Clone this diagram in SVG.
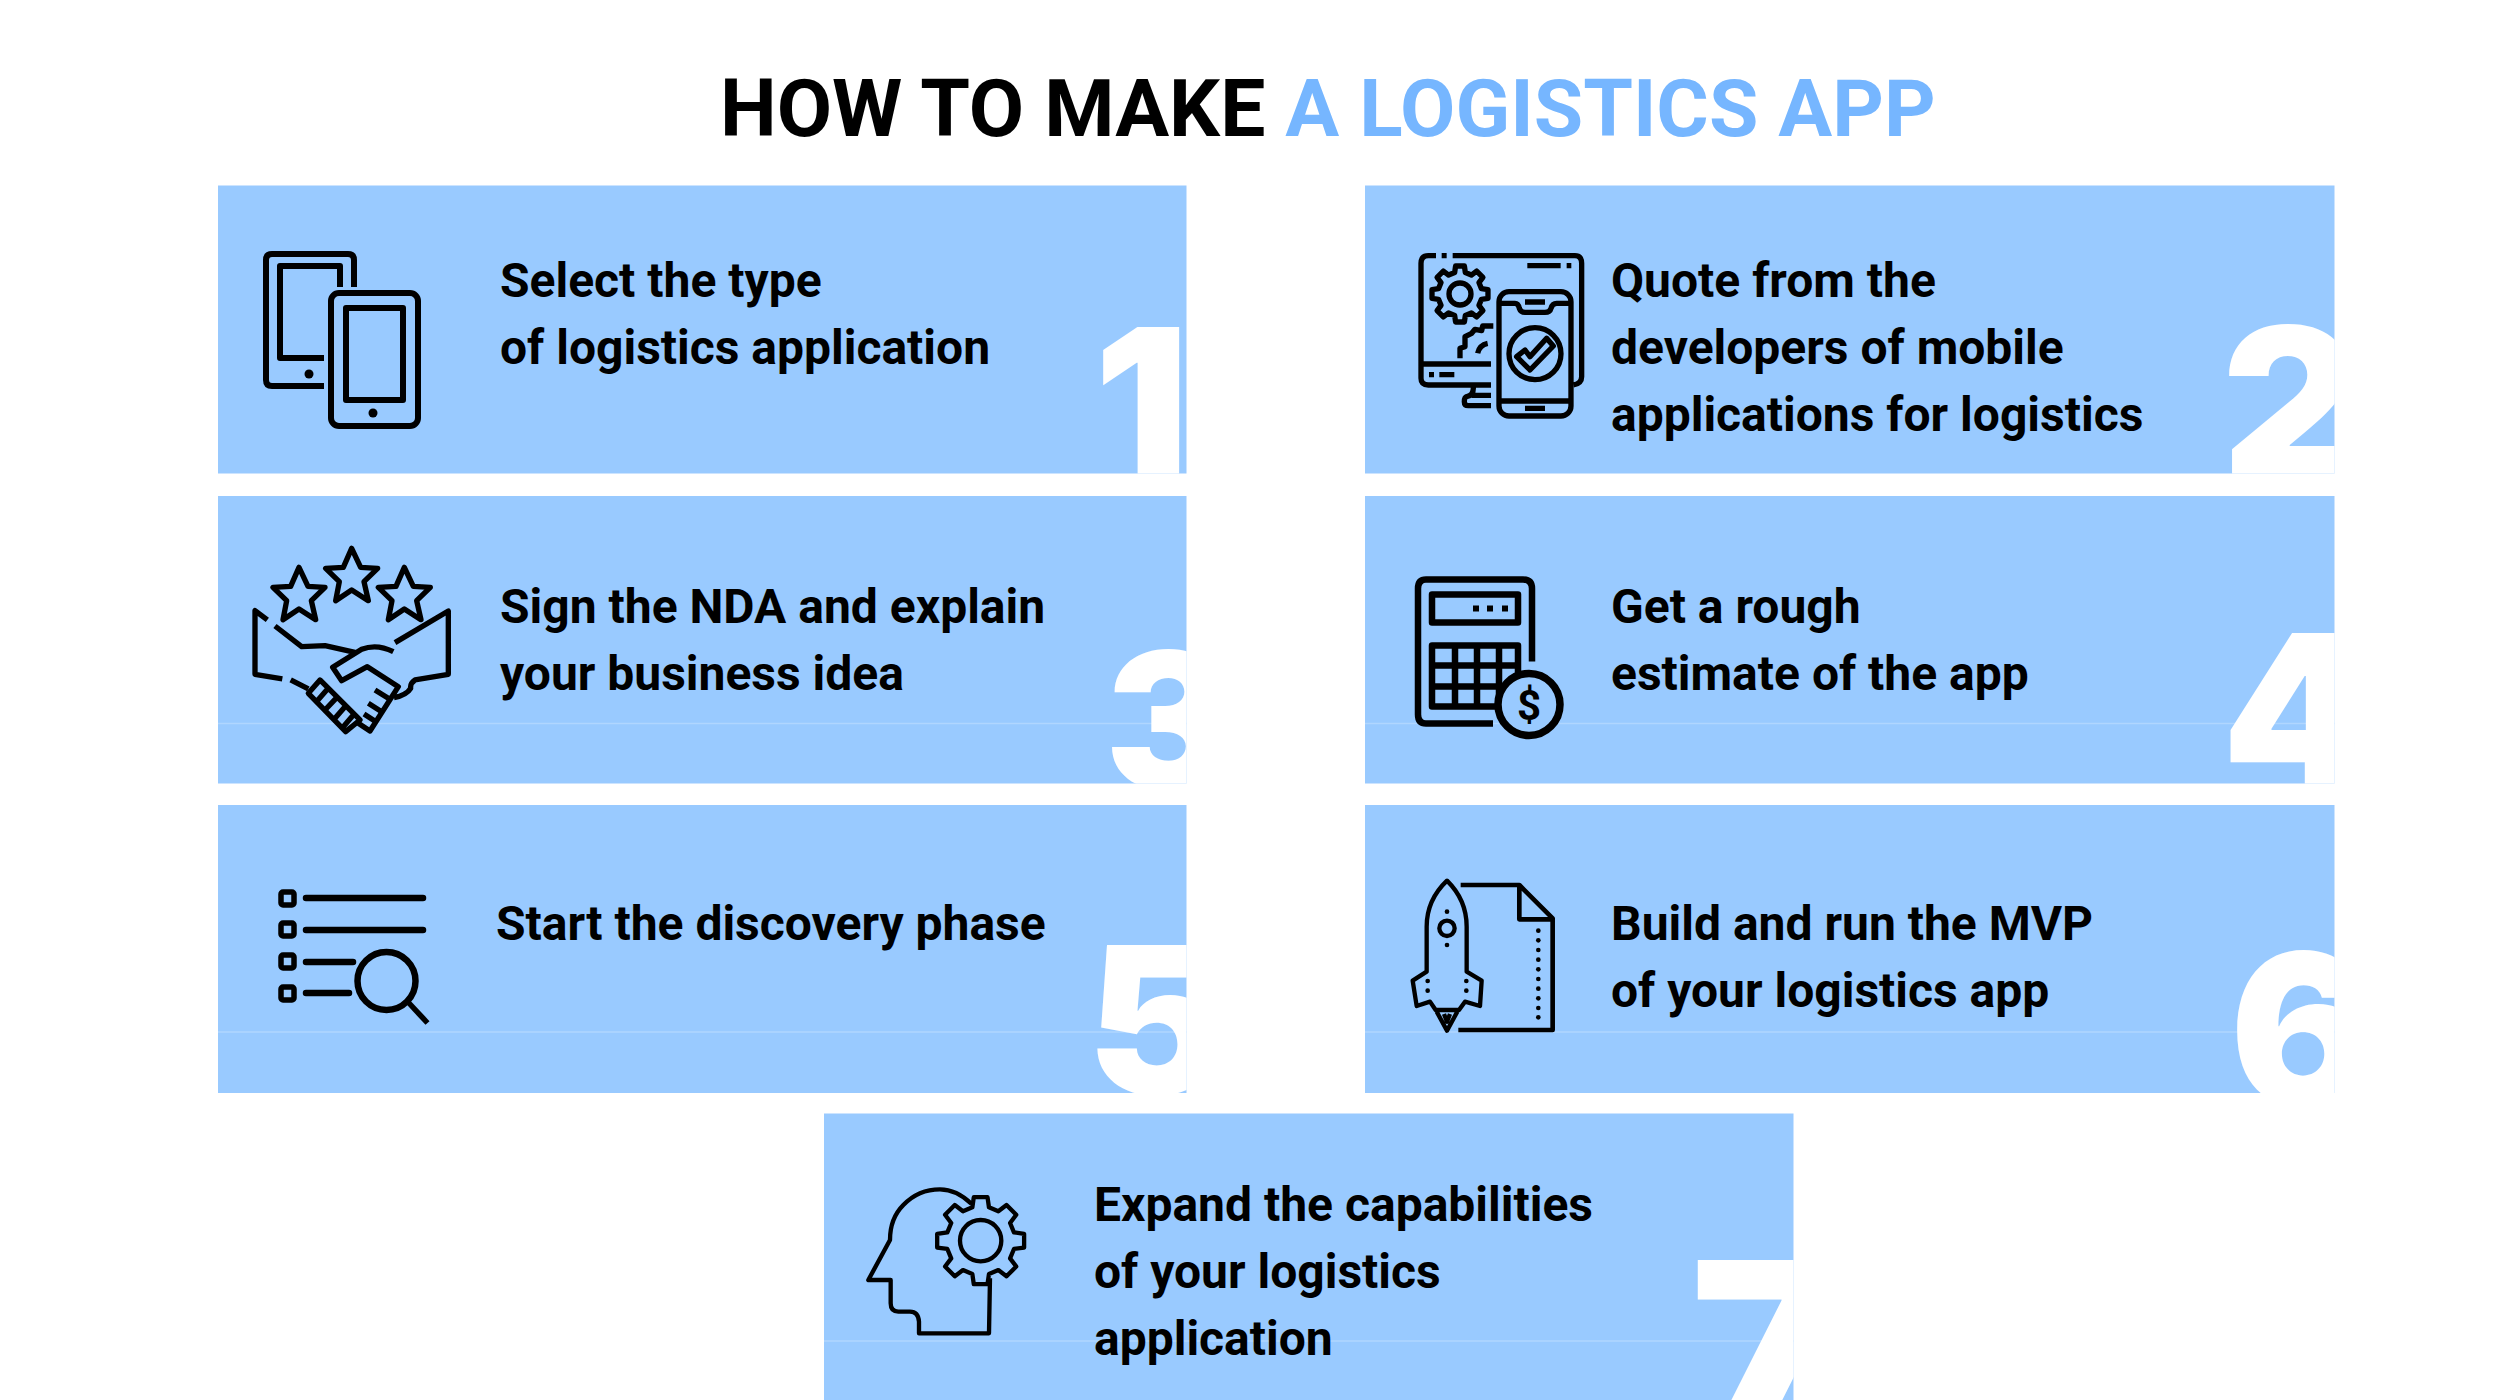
<svg xmlns="http://www.w3.org/2000/svg" xmlns:xlink="http://www.w3.org/1999/xlink" width="2500" height="1400" viewBox="0 0 2500 1400">
<style>
.card{fill:#99caff}
.seam{stroke:#b0d6ff;stroke-width:1.5;fill:none}
.t{font-family:Roboto,"Liberation Sans",sans-serif;font-weight:700;font-size:48px;fill:#000}
.title{font-family:Roboto,"Liberation Sans",sans-serif;font-weight:700;font-size:80.3px}
.num{font-family:Inter,"Liberation Sans",sans-serif;font-weight:900;font-size:210px;fill:#fff}
.i{fill:none;stroke:#000;stroke-linejoin:round;stroke-linecap:butt}
.f{fill:#000;stroke:none}
</style>
<defs>
<path id="gear" d="M-18.9-75.7L-15.6-98.8H15.6L18.9-75.7L40.2-66.9L58.8-80.9L80.9-58.8L66.9-40.2L75.7-18.9L98.8-15.6V15.6L75.7 18.9L66.9 40.2L80.9 58.8L58.8 80.9L40.2 66.9L18.9 75.7L15.6 98.8H-15.6L-18.9 75.7L-40.2 66.9L-58.8 80.9L-80.9 58.8L-66.9 40.2L-75.7 18.9L-98.8 15.6V-15.6L-75.7-18.9L-66.9-40.2L-80.9-58.8L-58.8-80.9L-40.2-66.9Z"/>
<path id="star" d="M0 0L27 57L78 60L37 100L50 157L0 125L-48 157L-37 100L-78 60L-25 57Z"/>
<clipPath id="c1"><rect x="218" y="185.500" width="968.500" height="288"/></clipPath>
<clipPath id="c2"><rect x="1365" y="185.500" width="969.500" height="288"/></clipPath>
<clipPath id="c3"><rect x="218" y="496" width="968.500" height="287.500"/></clipPath>
<clipPath id="c4"><rect x="1365" y="496" width="969.500" height="287.500"/></clipPath>
<clipPath id="c5"><rect x="218" y="805" width="968.500" height="288"/></clipPath>
<clipPath id="c6"><rect x="1365" y="805" width="969.500" height="288"/></clipPath>
<clipPath id="c7"><rect x="824" y="1113.500" width="969.500" height="286.500"/></clipPath>
</defs>
<rect width="2500" height="1400" fill="#fff"/>
<g id="title"><text class="title" x="720" y="136"><tspan fill="#000">HOW TO MAKE </tspan><tspan fill="#76b6ff">A LOGISTICS APP</tspan></text></g>
<g id="connectors"></g>

<g id="node-1">
<rect class="card" x="218" y="185.500" width="968.500" height="288"/>
<text class="num" clip-path="url(#c1)" x="1094" y="480">1</text>
<g class="i" stroke-width="6" transform="translate(-1 -1)">
<path d="M355 288V261Q355 255 349 255H273Q267 255 267 261V381Q267 387 273 387H325"/>
<path d="M341 288V267H281V359H325"/>
<rect x="332" y="294" width="87" height="133" rx="8"/>
<rect x="347" y="309" width="57" height="92"/>
<circle class="f" cx="310" cy="375" r="4.500"/><circle class="f" cx="374" cy="414" r="4.500"/>
</g>
<text class="t" x="500" y="296.500">Select the type</text>
<text class="t" x="500" y="363.500">of logistics application</text>
</g>

<g id="node-2">
<rect class="card" x="1365" y="185.500" width="969.500" height="288"/>
<text class="num" clip-path="url(#c2)" x="2222" y="479">2</text>
<g class="i" transform="translate(1410 240) scale(.3333)" stroke-width="16">
<path d="M78 47H55Q33 47 33 70V415Q33 435 55 435H243M95 47H110M128 47H495Q515 47 515 70V410Q515 430 490 435M33 372H243M352 77H452M470 77H484M57 404H72M88 404H133M190 437V445Q190 467 170 470Q163 472 163 485Q163 497 175 497H243M185 466H243"/>
<use xlink:href="#gear" href="#gear" transform="translate(150 162) scale(.85)" stroke-width="18.800"/>
<circle cx="150" cy="162" r="33"/>
<path d="M150 355V325L165 320V290L185 280L195 268L215 272L218 258H250M203 340Q208 315 233 310"/>
<rect x="267" y="155" width="216" height="373" rx="30"/>
<path d="M267 483H483M267 190H315Q325 190 328 205Q332 217 345 217H405Q420 217 423 205Q427 190 440 190H483M345 186H405M345 505H405"/>
<circle cx="375" cy="341" r="78"/>
<path d="M320 350L345 330L360 350L410 295L430 318L360 390Z"/>
</g>
<text class="t" x="1611" y="296.500">Quote from the</text>
<text class="t" x="1611" y="363.500">developers of mobile</text>
<text class="t" x="1611" y="430.500">applications for logistics</text>
</g>

<g id="node-3">
<rect class="card" x="218" y="496" width="968.500" height="287.500"/>
<path class="seam" d="M218 723.500H1186.500"/>
<text class="num" style="font-size:190px" clip-path="url(#c3)" x="1105" y="789">3</text>
<g class="i" transform="translate(240 530) scale(.3333)" stroke-width="16">
<use xlink:href="#star" href="#star" transform="translate(335 55)"/>
<use xlink:href="#star" href="#star" transform="translate(177 112)"/>
<use xlink:href="#star" href="#star" transform="translate(493 112)"/>
<path d="M82 270L45 242V433L127 447M105 288L185 350L255 347L345 367M152 450L205 477M465 338L625 243V433L525 450Q510 460 512 475Q500 495 462 503M460 365Q410 340 365 358L278 412L305 452L382 410L475 470L390 603L355 580"/>
<path d="M205 490L240 450L360 570L317 605ZM262 478L232 512M288 505L255 540M315 530L285 565M340 555L310 590M405 480L445 505M385 520L425 545M372 552L408 575"/>
</g>
<text class="t" x="500" y="623">Sign the NDA and explain</text>
<text class="t" x="500" y="690">your business idea</text>
</g>

<g id="node-4">
<rect class="card" x="1365" y="496" width="969.500" height="287.500"/>
<path class="seam" d="M1365 723.500H2334.500"/>
<text class="num" clip-path="url(#c4)" x="2222" y="786">4</text>
<g transform="translate(-1 -1.500)">
<g class="i" stroke-width="6.500">
<path d="M1533 663V590Q1533 581 1524 581H1427Q1419 581 1419 590V716Q1419 725 1427 725H1494"/>
<rect x="1433" y="596" width="86" height="28"/>
<path d="M1433 647H1519V708H1433ZM1456 647V708M1478 647V708M1500 647V708M1433 667H1519M1433 688H1519"/>
</g>
<circle cx="1530" cy="706" r="31" fill="#99caff" stroke="#000" stroke-width="7.500"/>
<path class="f" d="M1474 607h6v6h-6zM1488 607h6v6h-6zM1503 607h6v6h-6z"/>
<text x="1530" y="721" text-anchor="middle" font-family="Roboto,sans-serif" font-weight="700" font-size="42px" fill="#000">$</text>
</g>
<text class="t" x="1611" y="623">Get a rough</text>
<text class="t" x="1611" y="690">estimate of the app</text>
</g>

<g id="node-5">
<rect class="card" x="218" y="805" width="968.500" height="288"/>
<path class="seam" d="M218 1032H1186.500"/>
<text class="num" style="font-size:205px" clip-path="url(#c5)" x="1087" y="1094">5</text>
<g class="i" stroke-width="5.500">
<rect x="281" y="892" width="13" height="13" rx="2"/><rect x="281" y="923" width="13" height="13" rx="2"/><rect x="281" y="955" width="13" height="13" rx="2"/><rect x="281" y="987" width="13" height="13" rx="2"/>
<path stroke-width="6.500" stroke-linecap="round" d="M306 898H423M306 930H423M306 962H353M306 993H349"/>
<circle cx="386.500" cy="981" r="29" stroke-width="6.500"/>
<path d="M408 1002L427.500 1023"/>
</g>
<text class="t" x="496" y="940">Start the discovery phase</text>
</g>

<g id="node-6">
<rect class="card" x="1365" y="805" width="969.500" height="288"/>
<path class="seam" d="M1365 1032H2334.500"/>
<text class="num" clip-path="url(#c6)" x="2230" y="1105">6</text>
<g class="i" transform="translate(1400 860) scale(.3333)" stroke-width="13">
<path d="M141 62Q80 120 80 200V335L38 362L50 438L90 425L107 450H177L195 425L240 438L245 362L200 335V200Q200 120 141 62ZM110 455L141 512L172 455M132 462L141 485L150 462"/>
<circle cx="141" cy="205" r="23"/>
<path stroke-width="14" d="M182 75H358L458 175V510H175M358 75V178H458"/>
<g class="f"><circle cx="141" cy="155" r="7"/><circle cx="141" cy="255" r="7"/><circle cx="83" cy="363" r="7"/><circle cx="83" cy="392" r="7"/><circle cx="199" cy="363" r="7"/><circle cx="199" cy="392" r="7"/>
<circle cx="415" cy="212" r="7"/><circle cx="415" cy="241" r="7"/><circle cx="415" cy="270" r="7"/><circle cx="415" cy="299" r="7"/><circle cx="415" cy="328" r="7"/><circle cx="415" cy="357" r="7"/><circle cx="415" cy="386" r="7"/><circle cx="415" cy="415" r="7"/><circle cx="415" cy="444" r="7"/><circle cx="415" cy="472" r="7"/></g>
</g>
<text class="t" x="1611" y="940">Build and run the MVP</text>
<text class="t" x="1611" y="1007">of your logistics app</text>
</g>

<g id="node-7">
<rect class="card" x="824" y="1113.500" width="969.500" height="286.500"/>
<path class="seam" d="M824 1341H1793.500"/>
<text class="num" style="font-size:250px" clip-path="url(#c7)" x="1691" y="1442">7</text>
<g class="i" transform="translate(860 1180) scale(.3333)" stroke-width="13">
<path d="M335 72Q290 28 240 28Q175 28 130 75Q90 115 90 180L25 300H92V370Q92 395 115 395H150Q175 395 177 425V460H387L390 295"/>
<use xlink:href="#gear" href="#gear" transform="translate(362 182) scale(1.32)" stroke-width="9.800"/>
<circle cx="362" cy="182" r="62"/>
</g>
<text class="t" x="1094" y="1221">Expand the capabilities</text>
<text class="t" x="1094" y="1288">of your logistics</text>
<text class="t" x="1094" y="1355">application</text>
</g>
</svg>
